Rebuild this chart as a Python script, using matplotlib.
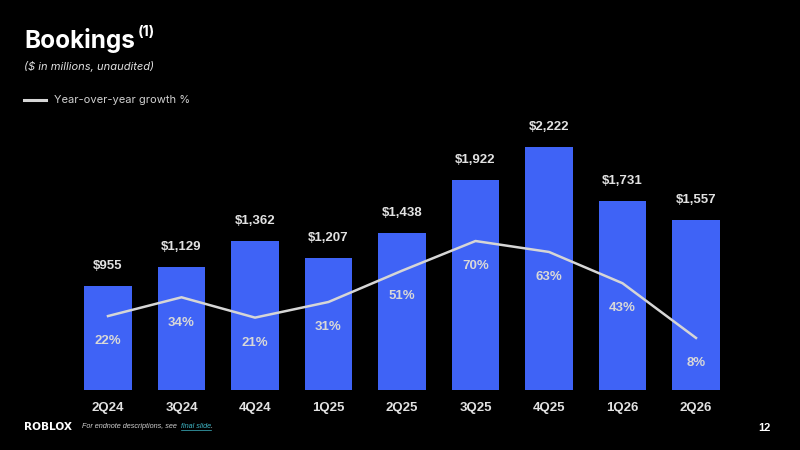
import matplotlib
matplotlib.use('Agg')
import matplotlib.pyplot as plt

# data
quarters = ['2Q24', '3Q24', '4Q24', '1Q25', '2Q25', '3Q25', '4Q25', '1Q26', '2Q26']
bookings = [955, 1129, 1362, 1207, 1438, 1922, 2222, 1731, 1557]
yoy_growth = [22, 34, 21, 31, 51, 70, 63, 43, 8]

BAR_COLOR = '#3F63F6'
LINE_COLOR = '#D6D6D6'
LABEL_COLOR = '#E2E2E2'

W, H = 800, 450
fig = plt.figure(figsize=(8, 4.5), dpi=100, facecolor='black')

# axes placed in pixel units
left, bottom, width, height = 71.25, 60, 661.5, 280
ax = fig.add_axes([left / W, bottom / H, width / W, height / H])
ax.set_facecolor('black')
x = list(range(len(quarters)))
ax.bar(x, bookings, width=0.646, color=BAR_COLOR, zorder=1)
ax.set_xlim(-0.5, len(quarters) - 0.5)
ax.set_ylim(0, 2560)
ax.set_xticks(x)
ax.set_xticklabels(quarters, fontfamily='Liberation Sans', fontweight='bold',
                   fontsize=9.5, color=LABEL_COLOR)
ax.tick_params(axis='x', length=0, pad=9)
ax.set_yticks([])
for s in ax.spines.values():
    s.set_visible(False)

for i, v in enumerate(bookings):
    ax.annotate(f'${v:,}', (i, v), xytext=(0, 14.4), textcoords='offset points',
                ha='center', va='center', fontfamily='Liberation Sans',
                fontweight='bold', fontsize=9.5, color=LABEL_COLOR)

ax2 = ax.twinx()
ax2.set_ylim(-25.3, 153.8)
ax2.plot(x, yoy_growth, color=LINE_COLOR, linewidth=1.8, zorder=3)
ax2.set_yticks([])
for s in ax2.spines.values():
    s.set_visible(False)
for i, p in enumerate(yoy_growth):
    ax2.annotate(f'{p}%', (i, p), xytext=(0, -18.2), textcoords='offset points',
                 ha='center', va='center', fontfamily='Liberation Sans',
                 fontweight='bold', fontsize=9.5, color='#D8D8D8')

# header
fig.text(24 / W, 1 - 48 / H, 'Bookings', fontfamily='Inter', fontweight='bold',
         fontsize=17.5, color='white', va='baseline')
fig.text(138 / W, 1 - 36 / H, '(1)', fontfamily='Inter', fontweight='bold',
         fontsize=10.5, color='white', va='baseline')
fig.text(24 / W, 1 - 67 / H, '($ in millions, unaudited)', fontfamily='Inter',
         style='italic', fontsize=8, color='#E0E0E0', va='center')
fig.add_artist(plt.Line2D([24 / W, 46 / W], [1 - 100 / H, 1 - 100 / H],
                          color=LINE_COLOR, linewidth=2.2))
fig.text(54 / W, 1 - 100 / H, 'Year-over-year growth %', fontfamily='Inter',
         fontsize=8, color='#D0D0D0', va='center')

# footer
fig.text(24 / W, 1 - 427 / H, 'ROBLOX', fontfamily='DejaVu Sans', fontweight='bold',
         fontsize=7.6, color='white', va='center')

renderer = fig.canvas.get_renderer()
fx = 82
parts = [('For endnote descriptions, see ', '#D0D0D0'), ('final slide', '#3FB8C8'), ('.', '#D0D0D0')]
for txt, col in parts:
    t = fig.text(fx / W, 1 - 426 / H, txt, fontfamily='Liberation Sans',
                 style='italic', fontsize=5.2, color=col, va='center')
    bb = t.get_window_extent(renderer)
    if txt == 'final slide':
        fig.add_artist(plt.Line2D([bb.x0 / W, bb.x1 / W], [1 - 430 / H, 1 - 430 / H],
                                  color=col, linewidth=0.5))
    fx = bb.x1 + (2 if txt.endswith(' ') else 0)

fig.text(758 / W, 1 - 428 / H, '12', fontfamily='Liberation Sans', fontweight='bold',
         fontsize=8, color='white', va='center')

fig.savefig('out.png', dpi=100, facecolor='black')
